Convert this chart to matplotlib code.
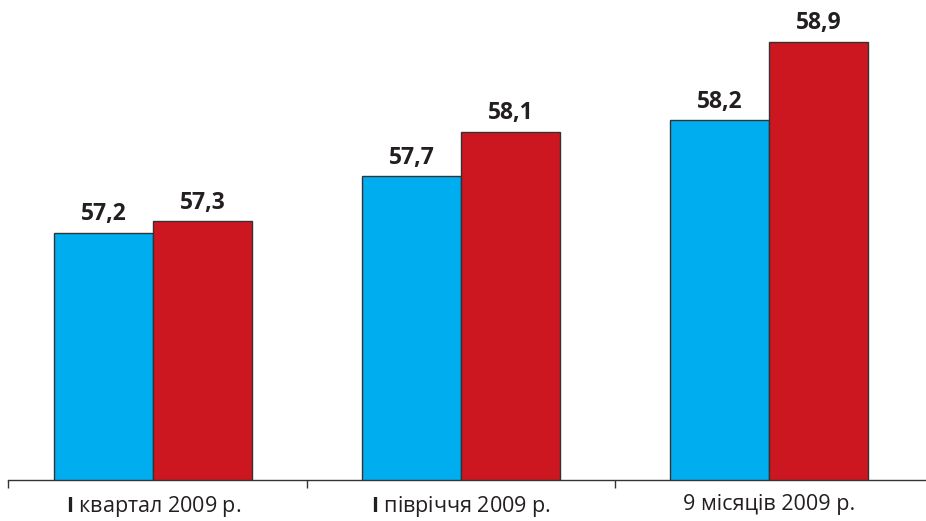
import matplotlib.pyplot as plt
import numpy as np

categories = ["I квартал 2009 р.", "I півріччя 2009 р.", "9 місяців 2009 р."]
series_blue = [57.2, 57.7, 58.2]
series_red = [57.3, 58.1, 58.9]
value_labels_blue = ["57,2", "57,7", "58,2"]
value_labels_red = ["57,3", "58,1", "58,9"]

plt.rcParams['font.family'] = ['Open Sans', 'DejaVu Sans']
plt.rcParams['mathtext.fontset'] = 'custom'
plt.rcParams['mathtext.bf'] = 'Open Sans:bold'
plt.rcParams['mathtext.rm'] = 'Open Sans'

fig = plt.figure(figsize=(9.26, 5.21), dpi=100)
ax = fig.add_axes([8 / 926, 41 / 521, 918 / 926, 480 / 521])

x = np.arange(len(categories))
w = 0.3214
bars_b = ax.bar(x - w / 2, series_blue, w, color='#00AEEF', edgecolor='#333333', linewidth=1.0)
bars_r = ax.bar(x + w / 2, series_red, w, color='#CC1720', edgecolor='#333333', linewidth=1.0)

for bars, labels in [(bars_b, value_labels_blue), (bars_r, value_labels_red)]:
    for b, lab in zip(bars, labels):
        ax.annotate(lab, (b.get_x() + b.get_width() / 2, b.get_height()),
                    xytext=(0, 9), textcoords='offset points',
                    ha='center', va='baseline', fontsize=16.5, fontweight='bold',
                    color='#231F20')

ax.set_ylim(55.0, 59.27)
ax.set_xlim(-0.472, 2.509)

for s in ['top', 'right', 'left']:
    ax.spines[s].set_visible(False)
ax.spines['bottom'].set_color('#333333')
ax.spines['bottom'].set_linewidth(1.0)
ax.set_yticks([])

ax.set_xticks([-0.471, 0.5, 1.5])
ax.set_xticklabels([])
ax.tick_params(axis='x', which='major', direction='out', length=6, width=1.0, color='#333333')

labels = [r"$\mathbf{I}$ " + categories[0][2:], r"$\mathbf{I}$ " + categories[1][2:], categories[2]]
ax.set_xticks(x, minor=True)
ax.set_xticklabels(labels, minor=True, fontsize=15.5, color='#231F20')
ax.tick_params(axis='x', which='minor', length=0, pad=10)

fig.patch.set_facecolor('white')
plt.savefig('out.png', dpi=100)
plt.close()
